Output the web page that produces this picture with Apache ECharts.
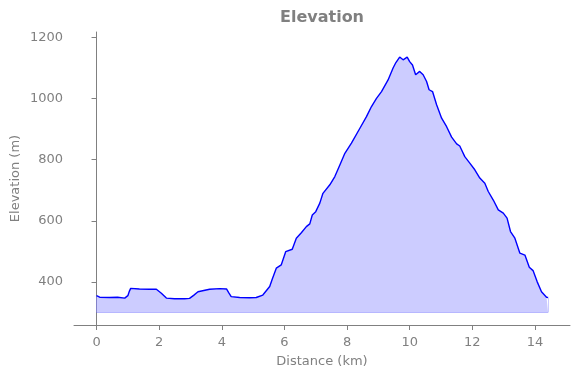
<!DOCTYPE html>
<html>
<head>
<meta charset="utf-8">
<script src="https://cdn.jsdelivr.net/npm/echarts@6/dist/echarts.min.js"></script>
<style>
  html, body { margin: 0; padding: 0; background: #fff; }
  #chart { width: 580px; height: 378px; }
</style>
</head>
<body>
<div id="chart"></div>
<script>
// distance along the route (km) and elevation (m)
var distKm = [0, 0.1, 0.42, 0.67, 0.9, 1.0, 1.05, 1.09, 1.37, 1.69, 1.91, 1.96, 2.07, 2.23, 2.49, 2.81, 2.97,
  3.1, 3.24, 3.29, 3.61, 3.93, 4.15, 4.22, 4.3, 4.57, 4.89, 5.1, 5.31, 5.53, 5.61, 5.74, 5.9, 6.04, 6.25,
  6.38, 6.54, 6.7, 6.81, 6.89, 7.0, 7.13, 7.23, 7.45, 7.61, 7.77, 7.93, 8.14, 8.41, 8.62, 8.78, 8.94,
  9.1, 9.31, 9.47, 9.56, 9.68, 9.79, 9.92, 10.0, 10.09, 10.19, 10.32, 10.43, 10.54, 10.62, 10.73, 10.86,
  11.02, 11.18, 11.34, 11.5, 11.6, 11.66, 11.76, 11.92, 12.08, 12.24, 12.4, 12.51, 12.67, 12.83, 12.99,
  13.11, 13.22, 13.36, 13.52, 13.68, 13.82, 13.94, 14.07, 14.21, 14.37, 14.42];
var elevM = [355, 350, 349, 350, 347, 355, 370, 379, 377, 376, 376, 370, 363, 347, 345, 345, 346,
  356, 368, 374, 376, 378, 377, 365, 352, 349, 348, 349, 357, 385, 409, 445, 456, 499, 507,
  543, 561, 581, 590, 619, 630, 658, 690, 718, 745, 783, 821, 854, 903, 941, 974, 1001,
  1023, 1061, 1100, 1118, 1136, 1127, 1136, 1121, 1110, 1078, 1089, 1078, 1056, 1029, 1023, 980,
  936, 908, 874, 852, 845, 832, 810, 789, 767, 740, 723, 696, 668, 636, 625,
  609, 565, 543, 494, 488, 448, 437, 401, 368, 350, 349];
var xTicks = [0, 2, 4, 6, 8, 10, 12, 14];
var yTicks = [400, 600, 800, 1000, 1200];
var fillBase = 300;

var gray = '#808080';
var myChart = echarts.init(document.getElementById('chart'));
var points = distKm.map(function (d, i) { return [d, elevM[i]]; });
var n = distKm.length - 1;
var edgeStyle = { color: 'rgba(0,0,255,0.2)', width: 1, type: 'solid' };

var option = {
    animation: false,
    textStyle: { fontFamily: 'DejaVu Sans' },
    title: {
        text: 'Elevation',
        left: 280,
        top: 10,
        padding: 0,
        textStyle: { color: gray, fontSize: 16, fontWeight: 'bold', fontFamily: 'DejaVu Sans' }
    },
    grid: { left: 74, right: 10, top: 32, bottom: 53, outerBoundsMode: 'none', containLabel: false },
    xAxis: {
        type: 'value',
        min: -0.72,
        max: 15.12,
        name: 'Distance (km)',
        nameLocation: 'middle',
        nameGap: 30,
        nameMoveOverlap: false,
        nameTextStyle: { color: gray, fontSize: 13 },
        axisLine: { lineStyle: { color: gray } },
        axisTick: { show: true, customValues: xTicks, length: 5, lineStyle: { color: gray } },
        axisLabel: { customValues: xTicks, color: gray, fontSize: 13, margin: 11,
            formatter: function (v) { return String(v); } },
        splitLine: { show: false }
    },
    yAxis: {
        type: 'value',
        min: 259,
        max: 1218,
        name: 'Elevation (m)',
        nameLocation: 'middle',
        nameGap: 52,
        nameMoveOverlap: false,
        nameTextStyle: { color: gray, fontSize: 13 },
        axisLine: { show: true, lineStyle: { color: gray } },
        axisTick: { show: true, customValues: yTicks, length: 5, lineStyle: { color: gray } },
        axisLabel: { customValues: yTicks, color: gray, fontSize: 13, margin: 11,
            formatter: function (v) { return String(v); } },
        splitLine: { show: false }
    },
    series: [{
        type: 'line',
        data: points,
        symbol: 'none',
        lineStyle: { color: '#0000ff', width: 1.4 },
        areaStyle: { color: '#ccccff', opacity: 1, origin: fillBase },
        markLine: {
            silent: true,
            symbol: 'none',
            label: { show: false },
            lineStyle: edgeStyle,
            data: [
                [{ coord: [distKm[0], fillBase] }, { coord: [distKm[n], fillBase] }],
                [{ coord: [distKm[n], fillBase] }, { coord: [distKm[n], elevM[n]] }],
                [{ coord: [distKm[0], fillBase] }, { coord: [distKm[0], elevM[0]] }]
            ]
        }
    }]
};
myChart.setOption(option);
</script>
</body>
</html>
